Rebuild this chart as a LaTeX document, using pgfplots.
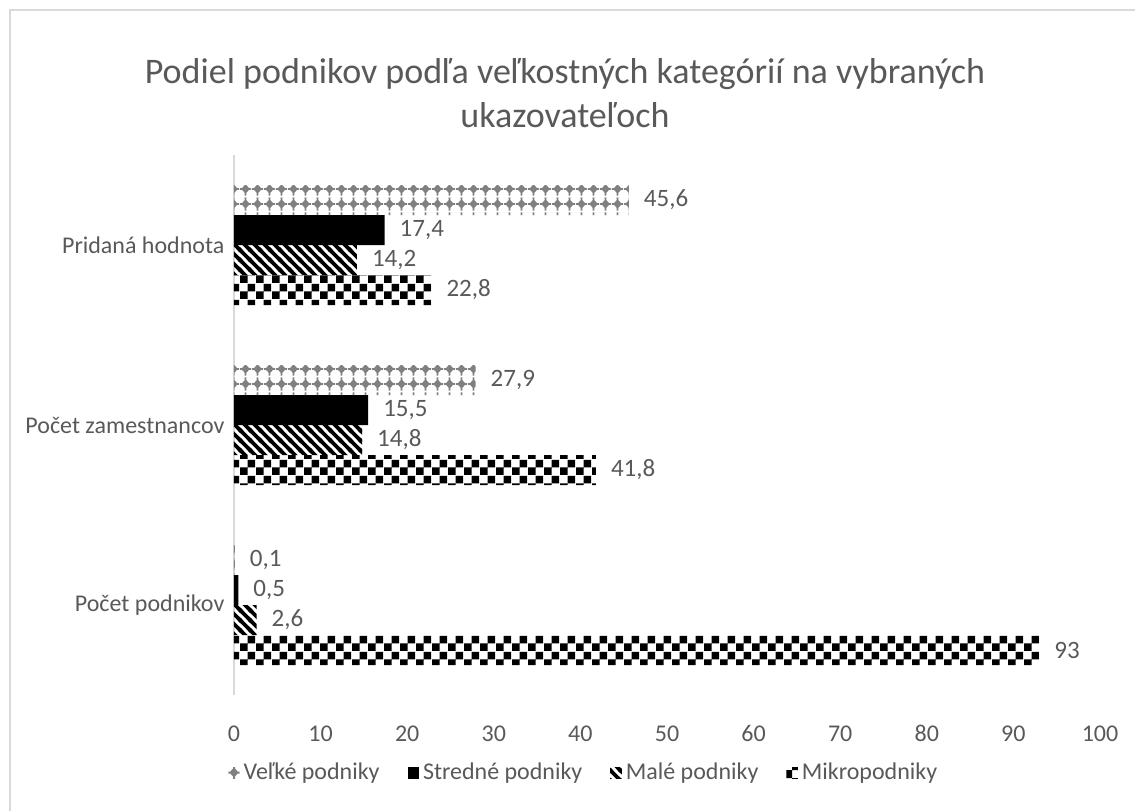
\documentclass[border=0pt]{standalone}
\usepackage{pgfplots}
\pgfplotsset{compat=1.18}
\usepackage{fontspec}
\setmainfont{Carlito}
\usetikzlibrary{patterns}
\definecolor{txt}{HTML}{595959}
\definecolor{axl}{HTML}{D9D9D9}
\pgfdeclarepatternformonly{checker}{\pgfpointorigin}{\pgfpoint{8pt}{8pt}}{\pgfpoint{8pt}{8pt}}{%
  \pgfpathrectangle{\pgfpointorigin}{\pgfpoint{4pt}{4pt}}%
  \pgfpathrectangle{\pgfpoint{4pt}{4pt}}{\pgfpoint{4pt}{4pt}}%
  \pgfusepath{fill}}
\pgfdeclarepatternformonly{stripes}{\pgfpoint{-1pt}{-1pt}}{\pgfpoint{6pt}{6pt}}{\pgfpoint{5pt}{5pt}}{%
  \pgfsetlinewidth{1.9pt}%
  \pgfpathmoveto{\pgfpoint{-1pt}{1pt}}\pgfpathlineto{\pgfpoint{1pt}{-1pt}}%
  \pgfpathmoveto{\pgfpoint{-1pt}{6pt}}\pgfpathlineto{\pgfpoint{6pt}{-1pt}}%
  \pgfpathmoveto{\pgfpoint{4pt}{6pt}}\pgfpathlineto{\pgfpoint{6pt}{4pt}}%
  \pgfusepath{stroke}}
\pgfdeclarepatternformonly{diamonds}{\pgfpointorigin}{\pgfpoint{6pt}{7.5pt}}{\pgfpoint{6pt}{7.5pt}}{%
  \pgfpathmoveto{\pgfpoint{3pt}{1.2pt}}%
  \pgfpathlineto{\pgfpoint{5.3pt}{3.75pt}}%
  \pgfpathlineto{\pgfpoint{3pt}{6.3pt}}%
  \pgfpathlineto{\pgfpoint{0.7pt}{3.75pt}}%
  \pgfpathclose
  \pgfpathrectangle{\pgfpoint{2.5pt}{0.2pt}}{\pgfpoint{1pt}{7.1pt}}%
  \pgfpathrectangle{\pgfpoint{0pt}{3.25pt}}{\pgfpoint{6pt}{1pt}}%
  \pgfusepath{fill}}
\begin{document}
\begin{tikzpicture}
\path[use as bounding box] (-117pt,-57.5pt) rectangle (450.5pt,347.5pt);
\draw[axl, line width=1.2pt] (-112pt,-60pt) -- (-112pt,342.5pt) -- (460pt,342.5pt);
\begin{axis}[
  at={(0pt,0pt)}, anchor=south west,
  scale only axis, width=433pt, height=270pt,
  xbar=0pt, bar width=15pt,
  xmin=0, xmax=100, ymin=-0.5, ymax=2.5,
  xtick={0,10,...,100},
  ytick={0,1,2},
  yticklabels={Počet podnikov, Počet zamestnancov, Pridaná hodnota},
  axis x line*=bottom,
  x axis line style={draw=none},
  xtick style={draw=none},
  axis y line*=left,
  y axis line style={axl, line width=0.8pt, -},
  ytick style={draw=none},
  xticklabel style={yshift=-11pt, text height=8.5pt, text depth=0pt},
  every tick label/.append style={font=\fontsize{12}{14}\selectfont, text=txt},
  /pgf/number format/assume math mode=true,
  /pgf/number format/use comma,
  yticklabel style={xshift=3pt},
  nodes near coords,
  nodes near coords style={font=\fontsize{12.5}{14}\selectfont, text=txt, xshift=4pt,
     /pgf/number format/use comma, /pgf/number format/assume math mode=true},
  reverse legend,
  legend columns=4,
  legend style={at={(axis cs:40.5,-0.5)}, anchor=center, yshift=-39pt, draw=none,
     font=\fontsize{12}{14}\selectfont, text=txt,
     /tikz/every even column/.append style={column sep=12pt}},
  legend image code/.code={\draw[#1, draw=none] (0cm,-0.1cm) rectangle (0.2cm,0.1cm);},
  clip=false,
]
\addplot[draw=none, pattern=checker, pattern color=black] coordinates {(93,0) (41.8,1) (22.8,2)};
\addplot[draw=none, pattern=stripes, pattern color=black] coordinates {(2.6,0) (14.8,1) (14.2,2)};
\addplot[draw=none, fill=black] coordinates {(0.5,0) (15.5,1) (17.4,2)};
\addplot[draw=none, pattern=diamonds, pattern color=gray] coordinates {(0.1,0) (27.9,1) (45.6,2)};
\legend{Mikropodniky, Malé podniky, Stredné podniky, Veľké podniky}
\node[font=\fontsize{18}{21}\selectfont, text=txt, align=center] at (165.5pt,301pt)
  {Podiel podnikov podľa veľkostných kategórií na vybraných\\[1pt]ukazovateľoch};
\end{axis}
\end{tikzpicture}
\end{document}
